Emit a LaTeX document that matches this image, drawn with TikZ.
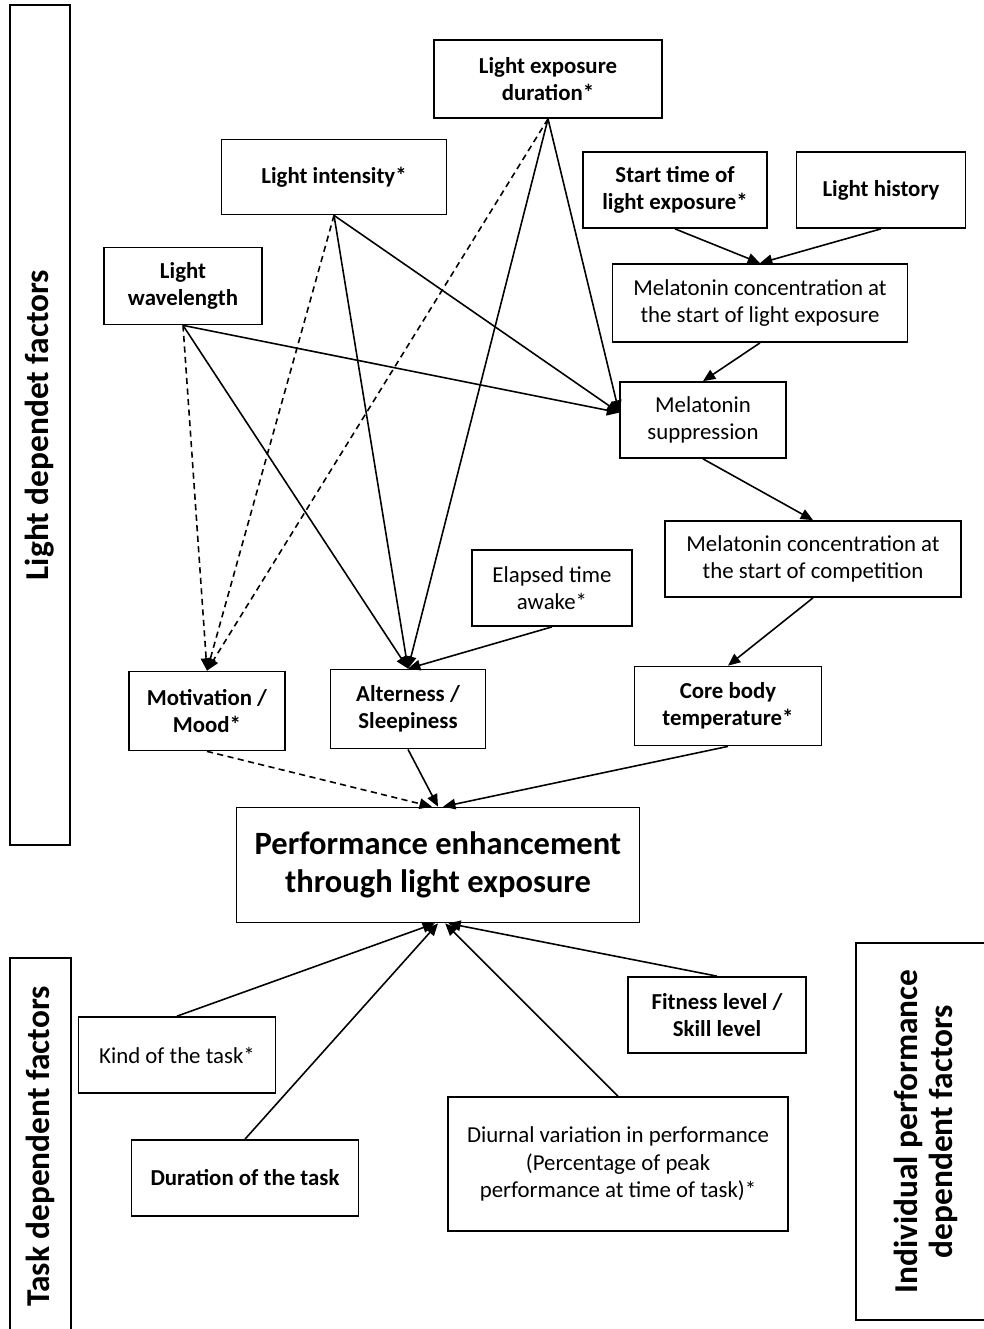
\documentclass[tikz,border=0pt]{standalone}
\usepackage{fontspec}
\setmainfont{Carlito}
\usepackage{tikz}
\usetikzlibrary{arrows.meta}
\tikzset{
  fct/.style = {rectangle, draw=black, line width=1pt, align=center,
    inner sep=2pt, font=\fontsize{13}{15.5}\selectfont},% factor, regular text
  fct_b/.style = {fct, font=\fontsize{13}{15.5}\selectfont\bfseries},% factor, bold text
  grp/.style = {rectangle, draw=black, line width=1pt, rotate=90, align=center,
    font=\fontsize{19}{20}\selectfont\bfseries},% group of factors
  lnk/.style = {line width=0.9pt},% solid link
  lnk_d/.style = {lnk, dash pattern=on 3.5pt off 2.5pt}% dashed link
}
\begin{document}
\begin{tikzpicture}[x=0.02cm, y=-0.02cm, ->, >={Triangle[length=7pt,width=6pt]}]
\useasboundingbox (0,0) rectangle (984,1329);
% groups
\node [grp, minimum width=16.8cm, minimum height=1.2cm] (g_light) at (40,425) {Light dependet factors};
\node [grp, minimum width=7.54cm, minimum height=1.22cm] (g_task) at (40.5,1146.5) {Task dependent factors};
\node [grp, minimum width=7.54cm, minimum height=2.78cm] (g_indiv) at (925.5,1131.5) {Individual performance\\dependent factors};
% light factors
\node [fct_b, minimum width=4.56cm, minimum height=1.56cm] (ledur) at (548,79) {Light exposure\\duration*};
\node [fct_b, minimum width=4.5cm, minimum height=1.5cm] (lint) at (334,177) {Light intensity*};
\node [fct_b, minimum width=3.16cm, minimum height=1.54cm] (lwave) at (183,286) {Light\\wavelength};
\node [fct_b, minimum width=3.68cm, minimum height=1.52cm] (start) at (675,190) {Start time of\\light exposure*};
\node [fct_b, minimum width=3.38cm, minimum height=1.52cm] (lhist) at (881,190) {Light history};
\node [fct, minimum width=5.9cm, minimum height=1.56cm] (melone) at (760,303) {Melatonin concentration at\\the start of light exposure};
\node [fct, minimum width=3.32cm, minimum height=1.52cm] (melsup) at (703,420) {Melatonin\\suppression};
\node [fct, minimum width=5.92cm, minimum height=1.52cm] (meltwo) at (813,559) {Melatonin concentration at\\the start of competition};
\node [fct, minimum width=3.2cm, minimum height=1.52cm] (elapsed) at (552,588) {Elapsed time\\awake*};
\node [fct_b, minimum width=3.74cm, minimum height=1.58cm] (core) at (728,706) {Core body\\temperature*};
\node [fct_b, minimum width=3.12cm, minimum height=1.58cm] (motiv) at (207,711) {Motivation /\\Mood*};
\node [fct_b, minimum width=3.1cm, minimum height=1.58cm] (alert) at (408,709) {Alterness /\\Sleepiness};
% outcome
\node [fct_b, minimum width=8.06cm, minimum height=2.3cm, font=\fontsize{18.5}{21.6}\selectfont\bfseries] (perf) at (438,865) {Performance enhancement\\through light exposure};
% task and individual factors
\node [fct, minimum width=3.94cm, minimum height=1.52cm] (kind) at (177,1055) {Kind of the task*};
\node [fct_b, minimum width=4.54cm, minimum height=1.52cm] (durtask) at (245,1178) {Duration of the task};
\node [fct_b, minimum width=3.56cm, minimum height=1.52cm] (fit) at (717,1015) {Fitness level /\\Skill level};
\node [fct, minimum width=6.8cm, minimum height=2.68cm] (diurnal) at (618,1164) {Diurnal variation in performance\\(Percentage of peak\\performance at time of task)*};
% links
\draw [lnk] (ledur.south) -- (melsup.175);
\draw [lnk] (ledur.south) -- (alert.north);
\draw [lnk_d] (ledur.south) -- (motiv.north);
\draw [lnk] (lint.south) -- (melsup.175);
\draw [lnk] (lint.south) -- (alert.north);
\draw [lnk_d] (lint.south) -- (motiv.north);
\draw [lnk] (lwave.south) -- (melsup.175);
\draw [lnk] (lwave.south) -- (alert.north);
\draw [lnk_d] (lwave.south) -- (motiv.north);
\draw [lnk] (start.south) -- (melone.north);
\draw [lnk] (lhist.south) -- (melone.north);
\draw [lnk] (melone.south) -- (melsup.north);
\draw [lnk] (melsup.south) -- (meltwo.north);
\draw [lnk] (meltwo.south) -- (core.north);
\draw [lnk] (elapsed.south) -- (alert.north);
\draw [lnk_d] (motiv.south) -- (perf.96);
\draw [lnk] (alert.south) -- (perf.north);
\draw [lnk] (core.south) -- (perf.85);
\draw [lnk] (kind.north) -- (perf.267);
\draw [lnk] (durtask.north) -- (perf.south);
\draw [lnk] (diurnal.north) -- (perf.277);
\draw [lnk] (fit.north) -- (perf.280);
\end{tikzpicture}
\end{document}
